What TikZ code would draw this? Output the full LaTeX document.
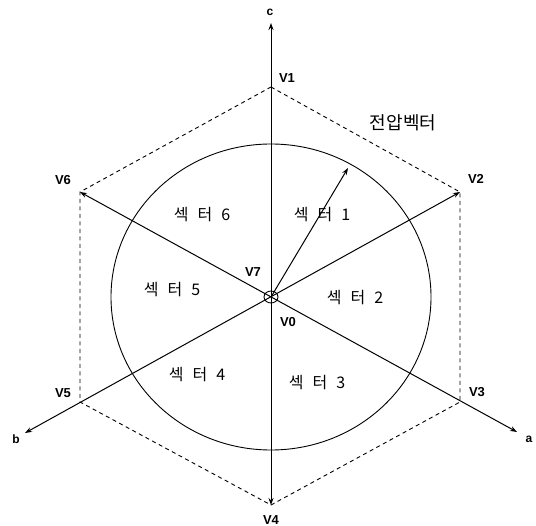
\documentclass[tikz,border=0pt]{standalone}
\usepackage{fontspec}
\setmainfont{Liberation Sans}
\newfontfamily\kr{Noto Sans CJK KR}
\usetikzlibrary{arrows.meta}
\begin{document}
\begin{tikzpicture}[x=1pt,y=-1pt,
  axisline/.style={line width=1pt,{Stealth[length=7pt,width=5pt]}-{Stealth[length=7pt,width=5pt]}},
  hexline/.style={line width=0.9pt,dash pattern=on 4pt off 3.5pt},
  vlabel/.style={font=\bfseries\fontsize{13}{13}\selectfont,inner sep=0pt},
  axlabel/.style={font=\bfseries\fontsize{12}{12}\selectfont,inner sep=0pt},
  sectorlabel/.style={font=\kr\fontsize{16}{16}\selectfont,inner sep=0pt}]
\useasboundingbox (0,0) rectangle (536,526);
\coordinate (O) at (271,297);
\coordinate (V1) at (271,87);
\coordinate (V2) at (460,192);
\coordinate (V3) at (460,402);
\coordinate (V4) at (271,505);
\coordinate (V5) at (80,402);
\coordinate (V6) at (80,192);
\coordinate (A) at (517,432);
\coordinate (B) at (25,433);
\coordinate (C) at (271,23);
\coordinate (P) at (348,168);
% hexagon
\draw[hexline] (V1) -- (V2) -- (V3) -- (V4) -- (V5) -- (V6) -- cycle;
% circle
\draw[line width=0.9pt] (O) ellipse [x radius=160, y radius=153];
% axes
\draw[axisline] (V4) -- (C);
\draw[axisline] (V6) -- (A);
\draw[axisline] (V2) -- (B);
% rotating vector
\draw[line width=1pt,-{Stealth[length=7pt,width=5pt]}] (O) -- (P);
% zero vector circle
\draw[line width=0.9pt] (O) ellipse [x radius=7, y radius=6];
% labels
\node[axlabel] (lc) at (270,12) {c};
\node[axlabel] (la) at (529,439) {a};
\node[axlabel] (lb) at (16,439) {b};
\node[vlabel] (l1) at (287,78) {V1};
\node[vlabel] (l2) at (476,179) {V2};
\node[vlabel] (l3) at (477,392) {V3};
\node[vlabel] (l4) at (271,520) {V4};
\node[vlabel] (l5) at (63,393) {V5};
\node[vlabel] (l6) at (63,180) {V6};
\node[vlabel] (l7) at (253,272) {V7};
\node[vlabel] (l0) at (288,322) {V0};
\node[sectorlabel] (s6) at (202,215) {섹\hspace{9pt}터\hspace{9pt}6};
\node[sectorlabel] (s1) at (322,215) {섹\hspace{9pt}터\hspace{9pt}1};
\node[sectorlabel] (s5) at (172,290) {섹\hspace{9pt}터\hspace{9pt}5};
\node[sectorlabel] (s2) at (355,298) {섹\hspace{9pt}터\hspace{9pt}2};
\node[sectorlabel] (s4) at (197,375) {섹\hspace{9pt}터\hspace{9pt}4};
\node[sectorlabel] (s3) at (317,383) {섹\hspace{9pt}터\hspace{9pt}3};
\node[font=\kr\fontsize{18}{18}\selectfont,inner sep=0pt] (title) at (403,123) {전압벡터};
\end{tikzpicture}
\end{document}
